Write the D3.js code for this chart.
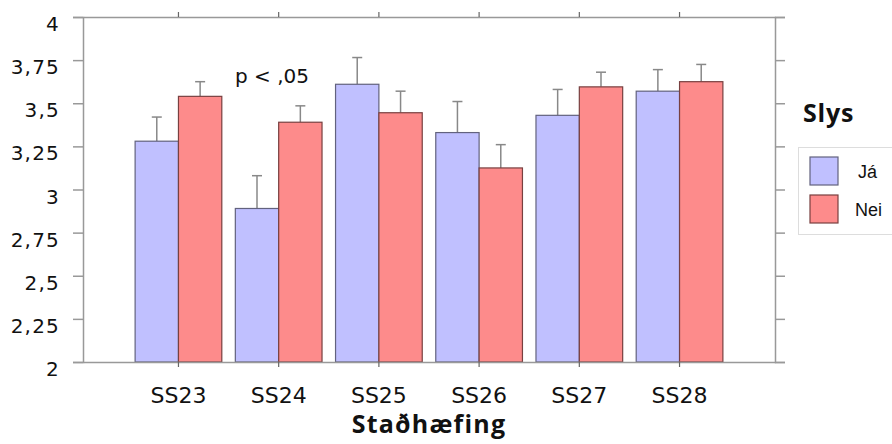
<!DOCTYPE html>
<html>
<head>
<meta charset="utf-8">
<script src="https://cdn.jsdelivr.net/npm/d3@7"></script>
<style>
  html, body { margin: 0; padding: 0; background: #fff; }
  svg { display: block; }
</style>
</head>
<body>
<svg id="chart" width="892" height="444"></svg>
<script>
// Statements and group means (with upper error bar) per group
const categories = ["SS23", "SS24", "SS25", "SS26", "SS27", "SS28"];
const groups = ["Já", "Nei"];
const jaMeans  = [3.28, 2.89, 3.61, 3.33, 3.43, 3.57];
const jaErr    = [0.14, 0.19, 0.155, 0.18, 0.15, 0.125];
const neiMeans = [3.54, 3.39, 3.445, 3.125, 3.595, 3.625];
const neiErr   = [0.085, 0.095, 0.125, 0.135, 0.085, 0.10];
const yTicks = [2, 2.25, 2.5, 2.75, 3, 3.25, 3.5, 3.75, 4];
const yTickLabels = ["2", "2,25", "2,5", "2,75", "3", "3,25", "3,5", "3,75", "4"];

const fills = { "Já": "#c0c0ff", "Nei": "#fd8b8b" };
const strokes = { "Já": "#62627e", "Nei": "#784040" };

const svg = d3.select("#chart");
const plotLeft = 83, plotRight = 775, plotTop = 17, plotBottom = 362;
const axisColor = "#999";

const x = d3.scaleBand().domain(categories).range([plotLeft, plotRight])
  .paddingInner(0.135).paddingOuter(0.52);
const xSub = d3.scaleBand().domain(groups).range([0, x.bandwidth()]);
const y = d3.scaleLinear().domain([2, 4]).range([plotBottom, plotTop]);

const rows = [];
categories.forEach((c, i) => {
  rows.push({ cat: c, group: "Já", mean: jaMeans[i], err: jaErr[i] });
  rows.push({ cat: c, group: "Nei", mean: neiMeans[i], err: neiErr[i] });
});

// Error bars (drawn first, upward only)
const eb = svg.append("g").attr("stroke", "#888").attr("stroke-width", 1.5);
rows.forEach(d => {
  const cx = x(d.cat) + xSub(d.group) + xSub.bandwidth() / 2;
  eb.append("line").attr("x1", cx).attr("x2", cx)
    .attr("y1", y(d.mean)).attr("y2", y(d.mean + d.err));
  eb.append("line").attr("x1", cx - 5).attr("x2", cx + 5)
    .attr("y1", y(d.mean + d.err)).attr("y2", y(d.mean + d.err));
});

// Bars
svg.append("g").selectAll("rect").data(rows).join("rect")
  .attr("x", d => x(d.cat) + xSub(d.group))
  .attr("y", d => y(d.mean))
  .attr("width", xSub.bandwidth())
  .attr("height", d => y(2) - y(d.mean))
  .attr("fill", d => fills[d.group])
  .attr("stroke", d => strokes[d.group])
  .attr("stroke-width", 1.2);

// Left axis
const yAxis = d3.axisLeft(y).tickValues(yTicks)
  .tickFormat((d, i) => yTickLabels[i]).tickSize(10).tickPadding(13);
const gy = svg.append("g").attr("transform", `translate(${plotLeft},0)`).call(yAxis);
gy.select(".domain").attr("stroke", axisColor).attr("stroke-width", 1.5);
gy.selectAll(".tick line").attr("stroke", axisColor).attr("stroke-width", 1.5);
gy.selectAll(".tick text")
  .attr("font-family", "DejaVu Sans").attr("font-size", 20)
  .attr("letter-spacing", 1.2).attr("fill", "#111").attr("dy", "0.68em");

// Right axis (mirrored ticks, no labels)
const gr = svg.append("g").attr("transform", `translate(${plotRight},0)`)
  .call(d3.axisRight(y).tickValues(yTicks).tickSize(10).tickFormat(""));
gr.select(".domain").attr("stroke", axisColor).attr("stroke-width", 1.5);
gr.selectAll(".tick line").attr("stroke", axisColor).attr("stroke-width", 1.5);

// Bottom axis
const gx = svg.append("g").attr("transform", `translate(0,${plotBottom})`)
  .call(d3.axisBottom(x).tickSize(5).tickPadding(18).tickSizeOuter(0));
gx.select(".domain").attr("stroke", axisColor).attr("stroke-width", 1.5);
gx.selectAll(".tick line").attr("stroke", "#666").attr("stroke-width", 1.2);
gx.selectAll(".tick text")
  .attr("font-family", "DejaVu Sans").attr("font-size", 22)
  .attr("fill", "#111").attr("dy", "0.82em");

// Top axis
const gt = svg.append("g").attr("transform", `translate(0,${plotTop})`)
  .call(d3.axisTop(x).tickSize(5).tickFormat("").tickSizeOuter(0));
gt.select(".domain").attr("stroke", axisColor).attr("stroke-width", 1.5);
gt.selectAll(".tick line").attr("stroke", "#666").attr("stroke-width", 1.2);

// Axis title
svg.append("text").attr("x", (plotLeft + plotRight) / 2).attr("y", 433)
  .attr("text-anchor", "middle")
  .attr("font-family", "Open Sans").attr("font-weight", "bold").attr("font-size", 25)
  .attr("letter-spacing", 1.2).attr("fill", "#111").text("Staðhæfing");

// Significance note
svg.append("text").attr("x", 235).attr("y", 83)
  .attr("font-family", "DejaVu Sans").attr("font-size", 20)
  .attr("fill", "#111").text("p < ,05");

// Legend
svg.append("text").attr("x", 803).attr("y", 122)
  .attr("font-family", "Open Sans").attr("font-weight", "bold").attr("font-size", 25)
  .attr("letter-spacing", 0.8).attr("fill", "#111").text("Slys");
svg.append("rect").attr("x", 798.5).attr("y", 147.5).attr("width", 110).attr("height", 87)
  .attr("fill", "#fff").attr("stroke", "#ddd");
const lg = svg.append("g");
groups.forEach((g, i) => {
  lg.append("rect").attr("x", 810).attr("y", 157 + i * 38).attr("width", 28).attr("height", 28)
    .attr("fill", fills[g]).attr("stroke", strokes[g]).attr("stroke-width", 1.2);
  lg.append("text").attr("x", i === 0 ? 858 : 855).attr("y", 178 + i * 38)
    .attr("font-family", "Liberation Sans").attr("font-size", 18)
    .attr("fill", "#111").text(g);
});
</script>
</body>
</html>
